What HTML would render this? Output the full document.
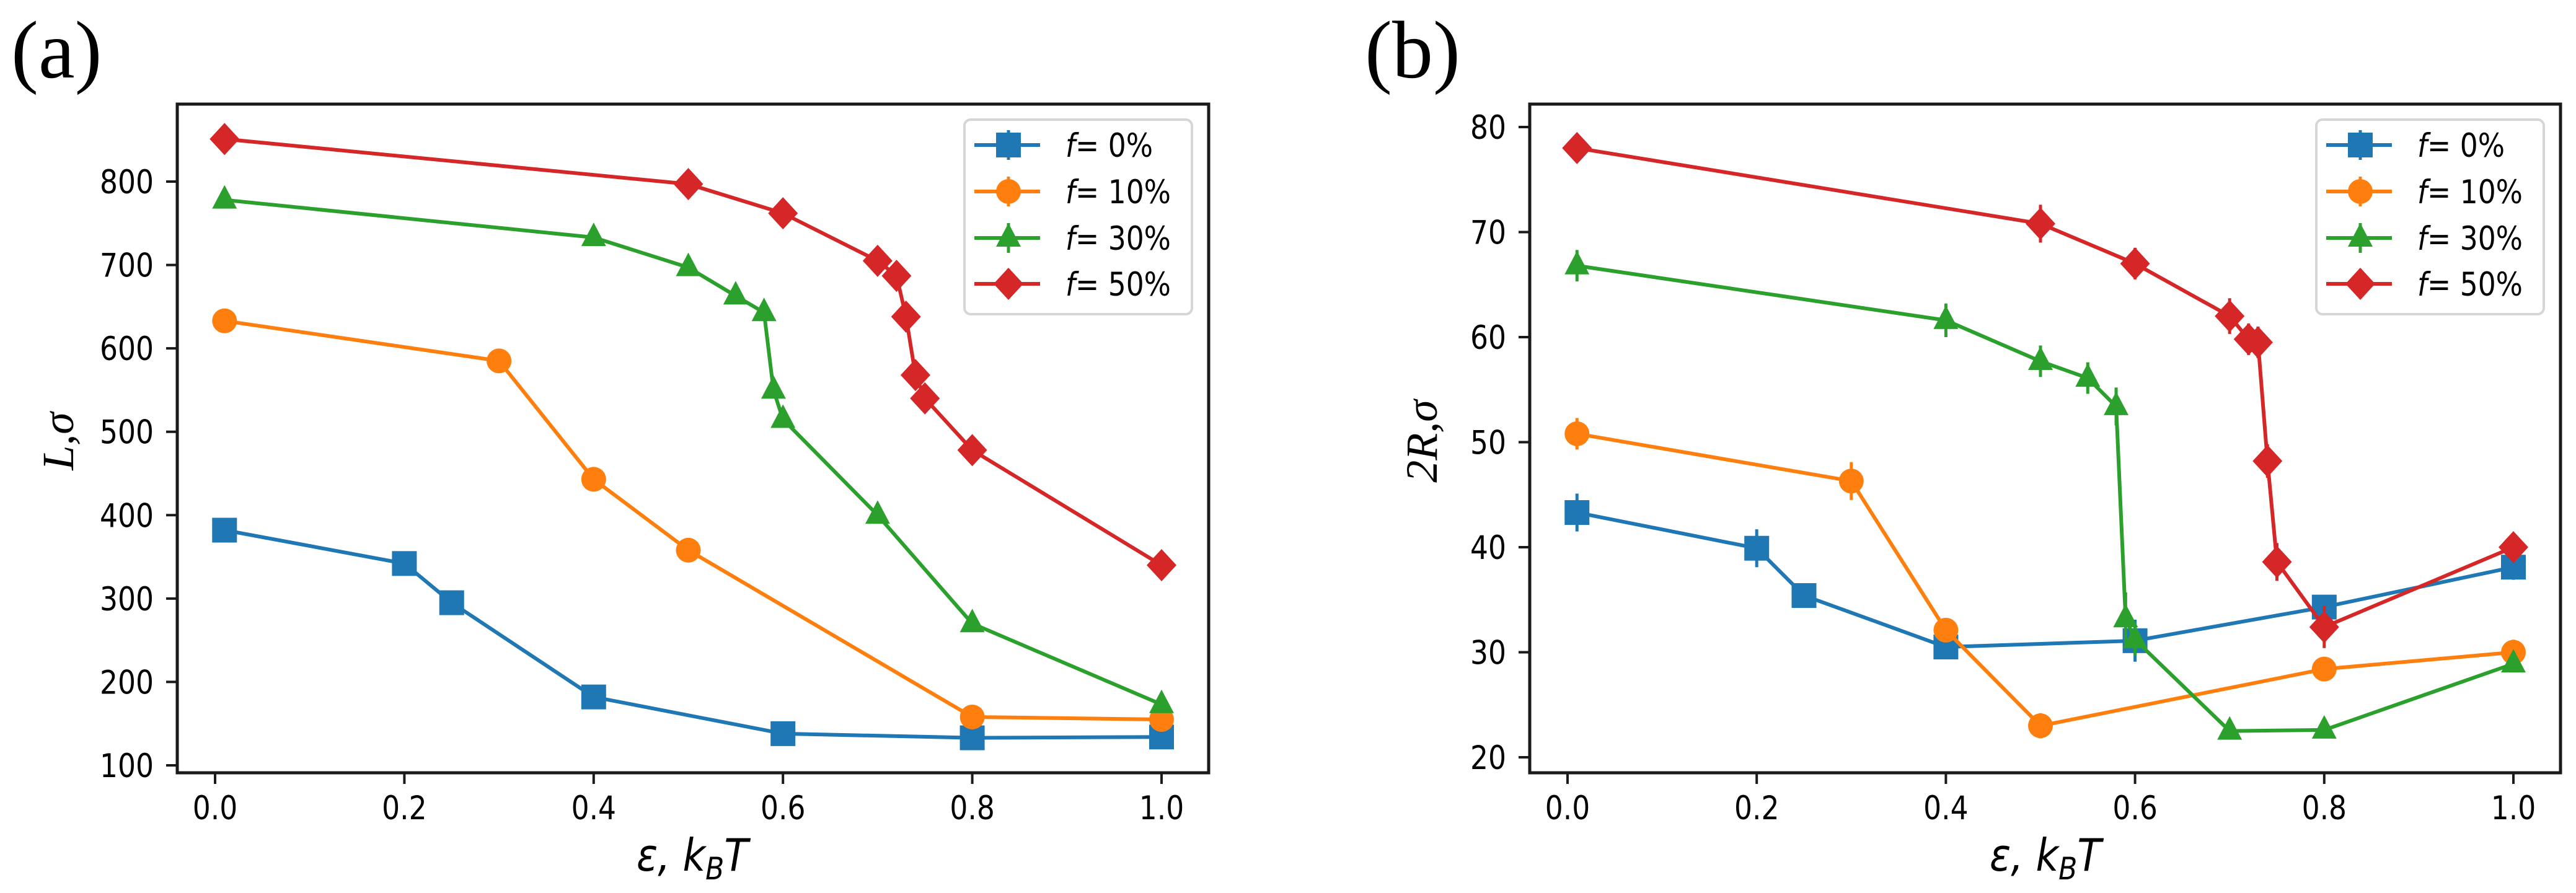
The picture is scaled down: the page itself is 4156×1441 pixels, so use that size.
<!DOCTYPE html>
<html><head><meta charset="utf-8"><style>
html,body{margin:0;padding:0;background:#fff;}
svg{display:block;}
</style></head><body>
<svg id="fig" width="4156" height="1441" viewBox="0 0 4156 1441" xmlns="http://www.w3.org/2000/svg"></svg>
<script>
const xTicks=[0.0,0.2,0.4,0.6,0.8,1.0];
const xTickLabels=["0.0","0.2","0.4","0.6","0.8","1.0"];
const seriesNames=["f = 0%","f = 10%","f = 30%","f = 50%"];
const seriesPct=["0%","10%","30%","50%"];
const colors=["#1f77b4","#ff7f0e","#2ca02c","#d62728"];
const markers=["square","circle","triangle","diamond"];

const x0=[0.01,0.2,0.25,0.4,0.6,0.8,1.0];
const x10=[0.01,0.3,0.4,0.5,0.8,1.0];
const x30=[0.01,0.4,0.5,0.55,0.58,0.59,0.6,0.7,0.8,1.0];
const x50=[0.01,0.5,0.6,0.7,0.72,0.73,0.74,0.75,0.8,1.0];

const aTicks=[100,200,300,400,500,600,700,800];
const aTickLabels=["100","200","300","400","500","600","700","800"];
const a0=[382,342,295,182,138,133,134];
const a10=[633,585,443,358,158,155];
const a30=[778,733,697,663,643,550,515,400,270,173];
const a50=[851,797,762,705,687,638,568,540,478,340];
const aErr0=[4,4,4,3,3,3,3];
const aErr10=[4,4,4,3,3,3];
const aErr30=[4,4,4,4,4,4,4,3,3,3];
const aErr50=[4,4,4,4,4,4,4,4,3,3];

const bTicks=[20,30,40,50,60,70,80];
const bTickLabels=["20","30","40","50","60","70","80"];
const b0=[43.3,39.9,35.4,30.5,31.1,34.3,38.1];
const b10=[50.8,46.3,32.1,23.0,28.4,30.0];
const b30=[66.8,61.6,57.7,56.1,53.4,33.2,31.2,22.5,22.6,28.9];
const b50=[78.0,70.8,67.0,62.0,59.8,59.5,48.2,38.6,32.4,40.0];
const bErr0=[1.8,1.8,1.0,0.9,2.0,1.0,1.2];
const bErr10=[1.5,1.8,1.0,1.2,0.8,1.2];
const bErr30=[1.5,1.6,1.5,1.5,1.8,2.5,1.5,0.8,0.8,0.8];
const bErr50=[0.6,1.8,1.5,1.7,1.5,1.5,1.6,1.8,2.0,0.8];

const NS="http://www.w3.org/2000/svg";
const svg=document.getElementById('fig');
function mk(tag,attrs,parent){const e=document.createElementNS(NS,tag);for(const k in attrs)e.setAttribute(k,attrs[k]);(parent||svg).appendChild(e);return e;}

function drawMarker(g,type,cx,cy,color){
  let m;
  if(type==="square"){m=mk('rect',{x:cx-20,y:cy-20,width:40,height:40,fill:color},g);}
  else if(type==="circle"){m=mk('circle',{cx:cx,cy:cy,r:20,fill:color},g);}
  else if(type==="triangle"){m=mk('polygon',{points:`${cx},${cy-24} ${cx+20},${cy+14} ${cx-20},${cy+14}`,fill:color},g);}
  else {m=mk('polygon',{points:`${cx},${cy-26} ${cx+24},${cy} ${cx},${cy+26} ${cx-24},${cy}`,fill:color},g);}
  return m;
}

function panel(cfg){
  const P=cfg.prefix;
  const xs=v=>cfg.x0px+cfg.xk*v;
  const ys=v=>cfg.yRef-(v-cfg.yRefVal)*cfg.yk;
  const g=mk('g',{});
  
  
  const lt=mk('text',{x:cfg.letterX,y:125,'font-family':'"Liberation Serif",serif','font-size':132},g);
  lt.textContent=cfg.letter;
  
  
  const dg=mk('g',{},g);
  
  
  cfg.series.forEach((s,i)=>{
    const sg=mk('g',{},dg);
    
    
    const pts=s.x.map((v,j)=>xs(v)+','+ys(s.y[j])).join(' ');
    const pl=mk('polyline',{points:pts,fill:'none',stroke:colors[i],'stroke-width':6,'stroke-linejoin':'round'},sg);
    
    
    s.x.forEach((v,j)=>{
      const cx=xs(v),cy=ys(s.y[j]);
      const eb=mk('line',{x1:cx,x2:cx,y1:ys(s.y[j]-s.e[j]),y2:ys(s.y[j]+s.e[j]),stroke:colors[i],'stroke-width':5},sg);
      
      
      const m=drawMarker(sg,markers[i],cx,cy,colors[i]);
      
      
    });
  });
  const fr=mk('rect',{x:cfg.left,y:cfg.top,width:cfg.right-cfg.left,height:cfg.bottom-cfg.top,fill:'none',stroke:'#1a1a1a','stroke-width':5},g);
  
  
  const xg=mk('g',{},g);
  
  
  xTicks.forEach((v,i)=>{
    const px=xs(v);
    mk('line',{x1:px,x2:px,y1:cfg.bottom,y2:cfg.bottom+18,stroke:'#1a1a1a','stroke-width':4},xg);
    const t=mk('text',{x:0,y:0,'font-family':'"DejaVu Sans",sans-serif','font-size':53,'text-anchor':'middle',transform:`translate(${px},1322) scale(0.86,1)`},xg);
    t.textContent=xTickLabels[i];
    
    
  });
  const yg=mk('g',{},g);
  
  
  cfg.yTicks.forEach((v,i)=>{
    const py=ys(v);
    mk('line',{x1:cfg.left-18,x2:cfg.left,y1:py,y2:py,stroke:'#1a1a1a','stroke-width':4},yg);
    const t=mk('text',{x:0,y:0,'font-family':'"DejaVu Sans",sans-serif','font-size':53,'text-anchor':'end',transform:`translate(${cfg.left-38},${py+19}) scale(0.86,1)`},yg);
    t.textContent=cfg.yTickLabels[i];
    
    
  });
  const xl=mk('text',{x:0,y:0,'font-family':'"DejaVu Sans",sans-serif','font-size':72,'font-style':'italic','text-anchor':'middle',transform:`translate(${cfg.xLabelX},1405) scale(0.88,1)`},g);
  xl.innerHTML='ε, k<tspan font-size="50" dy="14">B</tspan><tspan dy="-14">T</tspan>';
  
  
  const yl=mk('text',{x:0,y:0,'font-family':'"Liberation Serif",serif','font-size':72,'font-style':'italic','text-anchor':'middle',transform:`translate(${cfg.yLabelX},${cfg.yLabelY}) rotate(-90)`},g);
  yl.textContent=cfg.yLabel;
  
  
  const lg=mk('g',{},g);
  
  
  const lx=cfg.right-394;
  mk('rect',{x:lx,y:193,width:367,height:314,rx:10,fill:'#fff','fill-opacity':0.8,stroke:'#d6d6d6','stroke-width':4},lg);
  const rows=[234,309,384,458];
  seriesNames.forEach((n,i)=>{
    const eg=mk('g',{},lg);
    
    
    const ry=rows[i];
    mk('line',{x1:lx+16,x2:lx+122,y1:ry,y2:ry,stroke:colors[i],'stroke-width':6},eg);
    mk('line',{x1:lx+71,x2:lx+71,y1:ry-24,y2:ry+24,stroke:colors[i],'stroke-width':5},eg);
    drawMarker(eg,markers[i],lx+71,ry,colors[i]);
    const t=mk('text',{x:0,y:0,'font-family':'"DejaVu Sans",sans-serif','font-size':53,transform:`translate(${lx+163},${ry+19}) scale(0.86,1)`},eg);
    t.innerHTML='<tspan font-style="italic">f</tspan>= '+seriesPct[i];
  });
}

panel({prefix:'panel-a',letter:'(a)',letterX:18,left:286,right:1950,top:168,bottom:1247,
  x0px:347,xk:1527,yRef:1235,yRefVal:100,yk:1.3457,
  yTicks:aTicks,yTickLabels:aTickLabels,xLabelX:1117,yLabelX:118,yLabelY:712,yLabel:'L,σ',
  series:[{x:x0,y:a0,e:aErr0},{x:x10,y:a10,e:aErr10},{x:x30,y:a30,e:aErr30},{x:x50,y:a50,e:aErr50}]});
panel({prefix:'panel-b',letter:'(b)',letterX:2202,left:2468,right:4131,top:168,bottom:1247,
  x0px:2529,xk:1526,yRef:1222,yRefVal:20,yk:16.95,
  yTicks:bTicks,yTickLabels:bTickLabels,xLabelX:3300,yLabelX:2318,yLabelY:712,yLabel:'2R,σ',
  series:[{x:x0,y:b0,e:bErr0},{x:x10,y:b10,e:bErr10},{x:x30,y:b30,e:bErr30},{x:x50,y:b50,e:bErr50}]});
</script>
</body></html>
